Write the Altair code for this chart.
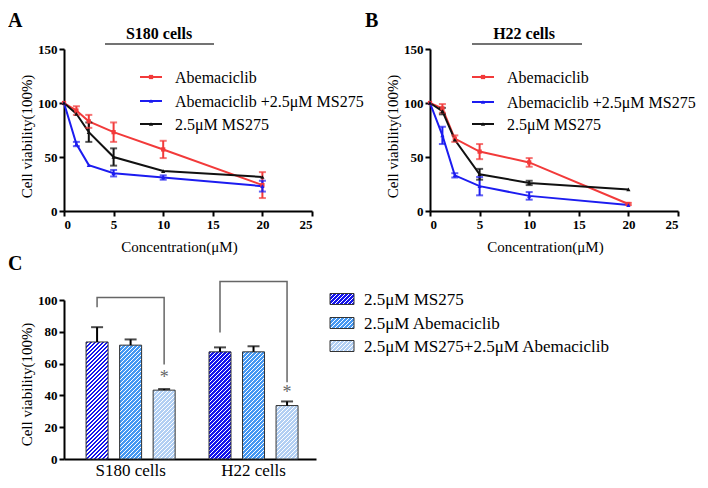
import altair as alt
import pandas as pd

# ---------------- Panels A and B : dose-response ----------------
conc = [0, 1.25, 2.5, 5, 10, 20]
series = ["Abemaciclib", "Abemaciclib +2.5μM MS275", "2.5μM MS275"]
series_colors = ["#f23a3a", "#1c1cf0", "#111111"]
series_shapes = ["square", "triangle-up", "triangle-up"]

s180_abema = [100, 93, 83, 73, 57, 24]
s180_abema_err = [0, 4, 6, 9, 8, 12]
s180_combo = [100, 62, 42.5, 35, 31, 23]
s180_combo_err = [0, 2, 0, 3, 2, 5]
s180_ms = [100, 90, 73, 50, 37, 31.5]
s180_ms_err = [0, 0, 9, 8, 0, 0]

h22_abema = [100, 95, 67, 55, 45, 6.5]
h22_abema_err = [0, 4, 3, 7, 4, 1]
h22_combo = [100, 70, 33, 23, 14, 5.5]
h22_combo_err = [0, 8, 2, 8.5, 3.5, 0]
h22_ms = [100, 92.5, 66, 34, 26, 20]
h22_ms_err = [0, 3, 0, 5, 2, 0]

x_ticks = [0, 5, 10, 15, 20, 25]
y_ticks_ab = [0, 50, 100, 150]

# ---------------- Panel C : bars ----------------
cells = ["S180 cells", "H22 cells"]
treatments = ["2.5μM MS275", "2.5μM Abemaciclib", "2.5μM MS275+2.5μM Abemaciclib"]
treat_colors = ["#1414ec", "#4598f2", "#b2cff3"]
bar_s180 = [73.6, 71.6, 43.3]
bar_s180_err = [9.3, 3.6, 0.7]
bar_h22 = [67.4, 67.4, 33.6]
bar_h22_err = [2.8, 3.5, 2.6]
y_ticks_c = [0, 20, 40, 60, 80, 100]

# significance brackets (y in data units) and stars
bracket_s180 = [95.5, 101.5, 101.5, 59.5]
bracket_h22 = [79.5, 111.7, 111.7, 48.3]
star_y = [51, 41.5]

FONT = "Liberation Serif"
AB_W, AB_H = 248, 162
C_W, C_H = 252, 159
BAR_W = 22


def hatch(color, w, h, period=4.0, white=0.28):
    L = w + h
    n = int(L / period) + 1
    stops = []
    for i in range(n):
        a = min(i * period / L, 1)
        b = min((i * period + period * (1 - white)) / L, 1)
        c = min((i + 1) * period / L, 1)
        stops += [{"offset": a, "color": color}, {"offset": b, "color": color},
                  {"offset": b, "color": "#ffffff"}, {"offset": c, "color": "#ffffff"}]
    k = L / (w * w + h * h)
    return {"gradient": "linear", "x1": 0, "y1": 0, "x2": w * k, "y2": h * k, "stops": stops}


def label_text(txt, x, y, size, weight="normal", align="left", baseline="alphabetic", color="black"):
    return alt.Chart(pd.DataFrame({"t": [txt]})).mark_text(
        font=FONT, fontSize=size, fontWeight=weight, align=align, baseline=baseline, color=color
    ).encode(x=alt.value(x), y=alt.value(y), text="t:N")


def dose_panel(vals, errs, title, letter, letter_x, title_cx, ul0, ul1, leg_x0, leg_rows):
    rows = []
    for s, v, e in zip(series, vals, errs):
        for c, vi, ei in zip(conc, v, e):
            rows.append({"conc": c, "value": vi, "err": ei, "series": s,
                         "lo": vi - ei, "hi": vi + ei})
    df = pd.DataFrame(rows)
    color = alt.Color("series:N", scale=alt.Scale(domain=series, range=series_colors), legend=None)
    x = alt.X("conc:Q", scale=alt.Scale(domain=[0, 25], nice=False),
              axis=alt.Axis(values=x_ticks, title="Concentration(μM)", titleX=115, titleY=40,
                            titleBaseline="alphabetic", titleAlign="center",
                            labelFontSize=13, labelOverlap=False))
    y = alt.Y("value:Q", scale=alt.Scale(domain=[0, 150], nice=False),
              axis=alt.Axis(values=y_ticks_ab, title="Cell viability(100%)", titleX=-30, titleY=87,
                            titleBaseline="bottom", titleAlign="center", labelFontSize=13,
                            labelOverlap=False))
    base = alt.Chart(df)
    lines = base.mark_line(strokeWidth=2).encode(x=x, y=y, color=color)
    pts = base.mark_point(filled=True, size=18, opacity=1).encode(
        x=x, y=y, color=color,
        shape=alt.Shape("series:N", scale=alt.Scale(domain=series, range=series_shapes), legend=None))
    eb = base.transform_filter("datum.err > 0")
    err_rule = eb.mark_rule(strokeWidth=2).encode(x=x, y="lo:Q", y2="hi:Q", color=color)
    caps = eb.transform_fold(["lo", "hi"], as_=["k", "ev"]).mark_tick(
        orient="horizontal", size=7, thickness=2).encode(x=x, y="ev:Q", color=color)

    layers = [lines, err_rule, caps, pts]
    # manual legend
    for i, s in enumerate(series):
        ly = leg_rows[i]
        layers.append(alt.Chart(pd.DataFrame({"series": [s]})).mark_rule(
            strokeWidth=2, color=series_colors[i]).encode(
            x=alt.value(leg_x0), x2=alt.value(leg_x0 + 22), y=alt.value(ly)))
        layers.append(alt.Chart(pd.DataFrame({"series": [s]})).mark_point(
            filled=True, size=18, opacity=1, shape=series_shapes[i], color=series_colors[i]).encode(
            x=alt.value(leg_x0 + 11), y=alt.value(ly)))
        layers.append(alt.Chart(pd.DataFrame({"series": [s]})).mark_text(
            font=FONT, fontSize=16, align="left", baseline="middle", color="black").encode(
            x=alt.value(leg_x0 + 35), y=alt.value(ly + 1), text="series:N"))
    # title with underline and panel letter
    layers.append(label_text(title, title_cx, -10, 16, weight="bold", align="center"))
    layers.append(alt.Chart(pd.DataFrame({"t": [title]})).mark_rule(
        strokeWidth=1.5, color="#444").encode(x=alt.value(ul0), x2=alt.value(ul1), y=alt.value(-5)))
    layers.append(label_text(letter, letter_x, -22, 20, weight="bold"))
    return alt.layer(*layers).properties(width=AB_W, height=AB_H)


panel_a = dose_panel([s180_abema, s180_combo, s180_ms],
                     [s180_abema_err, s180_combo_err, s180_ms_err],
                     "S180 cells", "A", -56, 95, 41, 150, 76, [28, 52, 75])
panel_b = dose_panel([h22_abema, h22_combo, h22_ms],
                     [h22_abema_err, h22_combo_err, h22_ms_err],
                     "H22 cells", "B", -65, 94, 42, 152, 42, [28, 53, 75])

# ---------------- Panel C ----------------
crow = []
for c, vals, errs in [(cells[0], bar_s180, bar_s180_err), (cells[1], bar_h22, bar_h22_err)]:
    for t, v, e in zip(treatments, vals, errs):
        crow.append({"cell": c, "treat": t, "value": v, "hi": v + e})
cdf = pd.DataFrame(crow)

c_x_axis = alt.Axis(title=None, ticks=False, labelFontSize=17, labelFontWeight="normal",
                    labelPadding=3, labelAngle=0, labelOverlap=False)
c_y_axis = alt.Axis(values=y_ticks_c, title="Cell viability(100%)", titleX=-30, titleY=84,
                    titleBaseline="bottom", titleAlign="center", labelFontSize=13,
                    labelOverlap=False, tickCount=6)
cx = alt.X("cell:N", sort=cells,
           scale=alt.Scale(paddingInner=0.19, paddingOuter=0.12, align=0.57),
           axis=c_x_axis)
cxo = alt.XOffset("treat:N", sort=treatments, scale=alt.Scale(paddingInner=0.33, paddingOuter=0.15))
cy_scale = alt.Scale(domain=[0, 100], nice=False)
cy = alt.Y("value:Q", scale=cy_scale, axis=c_y_axis)

c_layers = []
for row in crow:
    h = row["value"] * C_H / 100.0
    ti = treatments.index(row["treat"])
    c_layers.append(alt.Chart(cdf).transform_filter(
        (alt.datum.cell == row["cell"]) & (alt.datum.treat == row["treat"])
    ).mark_bar(width=BAR_W, fill=hatch(treat_colors[ti], BAR_W, h), stroke="#333333",
               strokeWidth=1).encode(x=cx, xOffset=cxo, y=cy))

c_layers.append(alt.Chart(cdf).mark_rule(strokeWidth=2, color="black").encode(
    x=cx, xOffset=cxo, y=alt.Y("value:Q", scale=cy_scale, axis=c_y_axis), y2="hi:Q"))
c_layers.append(alt.Chart(cdf).mark_tick(orient="horizontal", size=12, thickness=2,
                                          color="black").encode(
    x=cx, xOffset=cxo, y=alt.Y("hi:Q", scale=cy_scale, axis=c_y_axis)))

brow = []
for c, ys in [(cells[0], bracket_s180), (cells[1], bracket_h22)]:
    order_treat = [treatments[0], treatments[0], treatments[2], treatments[2]]
    for k, (t, yv) in enumerate(zip(order_treat, ys)):
        brow.append({"cell": c, "treat": t, "by": yv, "ord": k, "bracket": c})
bdf = pd.DataFrame(brow)
c_layers.append(alt.Chart(bdf).mark_line(strokeWidth=1.5, color="#666666").encode(
    x=cx, xOffset=cxo, y=alt.Y("by:Q", scale=cy_scale, axis=c_y_axis),
    detail="bracket:N", order="ord:Q"))

sdf = pd.DataFrame({"cell": cells, "treat": [treatments[2]] * 2, "sy": star_y, "s": ["*", "*"]})
c_layers.append(alt.Chart(sdf).mark_text(font=FONT, fontSize=18, color="#666666",
                                         baseline="middle").encode(
    x=cx, xOffset=cxo, y=alt.Y("sy:Q", scale=cy_scale, axis=c_y_axis), text="s:N"))

# legend for C
leg_y = [-1, 23, 46]
for i, t in enumerate(treatments):
    ly = leg_y[i]
    c_layers.append(alt.Chart(pd.DataFrame({"treat": [t]})).mark_rect(
        fill=hatch(treat_colors[i], 24, 11), stroke="#333333", strokeWidth=1).encode(
        x=alt.value(266), x2=alt.value(290), y=alt.value(ly - 5.5), y2=alt.value(ly + 5.5)))
    c_layers.append(alt.Chart(pd.DataFrame({"treat": [t]})).mark_text(
        font=FONT, fontSize=17, align="left", baseline="middle", color="black").encode(
        x=alt.value(300), y=alt.value(ly + 1), text="treat:N"))
c_layers.append(label_text("C", -56, -30, 20, weight="bold"))

panel_c = alt.layer(*c_layers).properties(width=C_W, height=C_H)

chart = alt.concat(panel_a, panel_b, panel_c, columns=2,
                   spacing={"row": 89, "column": 114}, bounds="flush").properties(
    padding={"top": 3, "left": 0, "right": 0, "bottom": 0}
).configure_axis(
    labelFont=FONT, titleFont=FONT, labelFontWeight="bold", labelColor="black",
    titleColor="black", titleFontWeight="normal", titleFontSize=15,
    domainColor="black", domainWidth=2, tickColor="black", tickWidth=2, tickSize=5,
    labelPadding=2, grid=False, labelOverlap=False
).configure_view(stroke=None)

chart.save("out.html", embed_options={"renderer": "svg", "actions": False})
